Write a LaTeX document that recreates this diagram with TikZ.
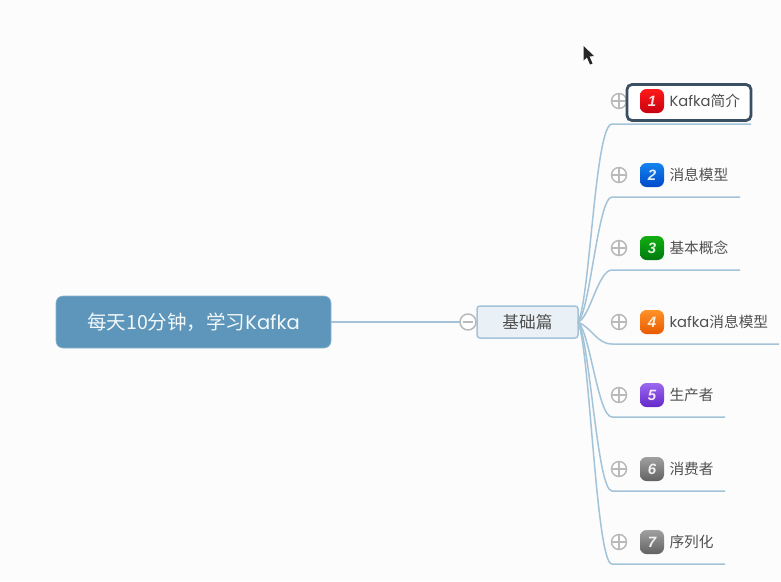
\documentclass[tikz,border=0pt]{standalone}
\usepackage{fontspec}
\setmainfont{Noto Sans CJK SC}
\newfontfamily\latinf{Poppins}
\newfontfamily\numf{Liberation Sans}
\usetikzlibrary{calc}
\definecolor{linkblue}{HTML}{A3C3D8}
\definecolor{rootblue}{HTML}{5D96BA}
\definecolor{hubfill}{HTML}{EAF1F6}
\definecolor{framedark}{HTML}{3B4F63}
\definecolor{txtgrey}{HTML}{505050}
\definecolor{togglegrey}{HTML}{BABABA}
\definecolor{redA}{HTML}{FF1A1A}\definecolor{redB}{HTML}{C80010}
\definecolor{blueA}{HTML}{1484F0}\definecolor{blueB}{HTML}{0048C8}
\definecolor{greenA}{HTML}{12AE12}\definecolor{greenB}{HTML}{007A10}
\definecolor{orangeA}{HTML}{FF9228}\definecolor{orangeB}{HTML}{E85A00}
\definecolor{purpleA}{HTML}{9C68F0}\definecolor{purpleB}{HTML}{6428C8}
\definecolor{greyA}{HTML}{A0A0A0}\definecolor{greyB}{HTML}{626262}
\tikzset{
  x=1pt,y=-1pt,
  every node/.style={inner sep=0pt,outer sep=0pt},
  rootbox/.style={draw=rootblue!70!white,line width=.6pt,fill=rootblue,rounded corners=7pt,minimum width=275pt,minimum height=52pt,text=white!92!rootblue,font=\fontsize{19.5}{22}\selectfont},
  hubbox/.style={draw=linkblue,line width=1.5pt,fill=hubfill,rounded corners=3pt,minimum width=101pt,minimum height=32pt,text=txtgrey,font=\fontsize{16.7}{19}\selectfont},
  leaftext/.style={anchor=west,text=txtgrey,font=\fontsize{14.7}{17}\selectfont},
  selbox/.style={draw=framedark,line width=2.8pt,fill=white,rounded corners=5pt,minimum width=124pt,minimum height=36pt},
  link/.style={draw=linkblue,line width=1.5pt},
  togglecore/.style={circle,draw=togglegrey,line width=1.5pt,fill=white,minimum size=15pt},
  plustoggle/.style={togglecore,path picture={
     \draw[togglegrey,line width=1.3pt] (path picture bounding box.west)--(path picture bounding box.east)
       (path picture bounding box.north)--(path picture bounding box.south);}},
  minustoggle/.style={togglecore,minimum size=16pt,path picture={
     \draw[togglegrey,line width=1.3pt] ($(path picture bounding box.west)+(3pt,0)$)--($(path picture bounding box.east)+(-3pt,0)$);}},
  badge/.style 2 args={rounded corners=6.5pt,minimum size=24pt,top color=#1,middle color=#1,bottom color=#2,text=white!85!#1,font=\numf\itshape\bfseries\fontsize{15}{15}\selectfont},
}
\newcommand{\kaf}[1]{{\latinf #1}}
\begin{document}
\begin{tikzpicture}
\useasboundingbox (0,0) rectangle (781,581);
\fill[white!99!black] (0,0) rectangle (781,581);
% cursor
\fill[black!85] (583.5,46) -- (583.5,60.5) -- (587,57.5) -- (590,64.5) -- (592.5,63.5) -- (589.5,56.5) -- (594,56) -- cycle;
% hub & root
\node[rootbox] (root) at (193.5,322) {每天10分钟，学习\kaf{Kafka}};
\node[hubbox] (hub) at (527.5,322) {基础篇};
% line-ends
\coordinate (e1) at (751,124);\coordinate (e2) at (740,197);\coordinate (e3) at (740,270);
\coordinate (e4) at (779,344);\coordinate (e5) at (725,417);\coordinate (e6) at (725,491);\coordinate (e7) at (725,564);
\coordinate (s1) at (612,124);\coordinate (s2) at (612,197);\coordinate (s3) at (612,270);
\coordinate (s4) at (612,344);\coordinate (s5) at (612,417);\coordinate (s6) at (612,491);\coordinate (s7) at (612,564);
% links
\draw[link] (root.east) -- (hub.west);
\draw[link] (hub.east) .. controls (590,300) and (595,124) .. (s1) -- (e1);
\draw[link] (hub.east) .. controls (590,312) and (598,197) .. (s2) -- (e2);
\draw[link] (hub.east) .. controls (590,318) and (598,270) .. (s3) -- (e3);
\draw[link] (hub.east) .. controls (592,328) and (597,344) .. (s4) -- (e4);
\draw[link] (hub.east) .. controls (590,332) and (598,417) .. (s5) -- (e5);
\draw[link] (hub.east) .. controls (590,340) and (597,491) .. (s6) -- (e6);
\draw[link] (hub.east) .. controls (590,350) and (596,564) .. (s7) -- (e7);
% toggles
\node[minustoggle] (m0) at (468,322) {};
\node[plustoggle] (p1) at (619,101) {};
\node[plustoggle] (p2) at (619,175) {};
\node[plustoggle] (p3) at (619,248) {};
\node[plustoggle] (p4) at (619,322) {};
\node[plustoggle] (p5) at (619,395) {};
\node[plustoggle] (p6) at (619,469) {};
\node[plustoggle] (p7) at (619,542) {};
% selected frame
\node[selbox] (sel) at (689,102.5) {};
% badges
\node[badge={redA}{redB}] (b1) at (652,101) {1};
\node[badge={blueA}{blueB}] (b2) at (652,175) {2};
\node[badge={greenA}{greenB}] (b3) at (652,248) {3};
\node[badge={orangeA}{orangeB}] (b4) at (652,322) {4};
\node[badge={purpleA}{purpleB}] (b5) at (652,395) {5};
\node[badge={greyA}{greyB}] (b6) at (652,469) {6};
\node[badge={greyA}{greyB}] (b7) at (652,542) {7};
% labels
\node[leaftext] (t1) at (669.5,101) {\kaf{Kafka}简介};
\node[leaftext] (t2) at (669.5,175) {消息模型};
\node[leaftext] (t3) at (669.5,248) {基本概念};
\node[leaftext] (t4) at (669.5,322) {\kaf{kafka}消息模型};
\node[leaftext] (t5) at (669.5,395) {生产者};
\node[leaftext] (t6) at (669.5,469) {消费者};
\node[leaftext] (t7) at (669.5,542) {序列化};
\end{tikzpicture}
\end{document}
